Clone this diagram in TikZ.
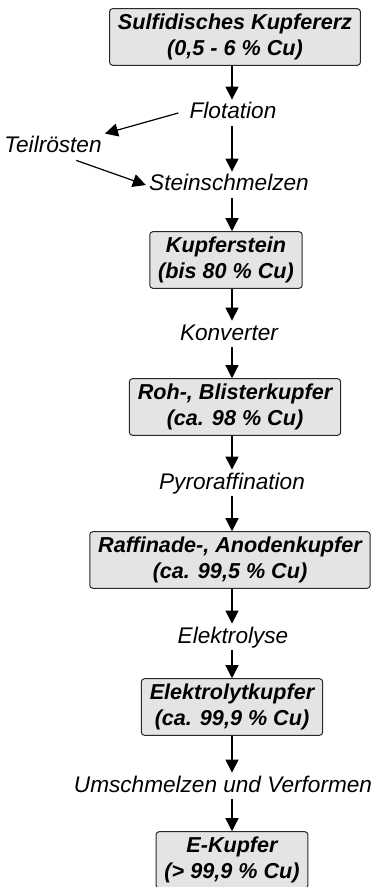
\documentclass[tikz,border=0pt]{standalone}
\usepackage{fontspec}
\setmainfont{Liberation Sans}
\usepackage{xcolor}
\definecolor{cugray}{RGB}{228,228,228}
\definecolor{cudark}{RGB}{40,40,40}
\usetikzlibrary{arrows.meta,positioning}

\begin{document}
\begin{tikzpicture}[
  x=0.5pt, y=-0.5pt,
  stage/.style={
    rectangle, rounded corners=1.5pt,
    draw=cudark, line width=0.5pt,
    fill=cugray,
    inner xsep=4.2pt, inner ysep=2.6pt,
    font=\fontsize{10.8}{13}\selectfont\bfseries\itshape,
    align=center,
    text=black
  },
  procname/.style={
    font=\fontsize{11.3}{13}\selectfont\itshape,
    inner sep=1.5pt, text height=8pt, text depth=2pt,
    text=black
  },
  conn/.style={-{Triangle[length=6.5pt,width=6.5pt]}, line width=0.6pt, draw=black}
]
\useasboundingbox (0,0) rectangle (377,887);

\node[stage]    (erz)    at (235,37)  {Sulfidisches Kupfererz\\(0,5 - 6 \% Cu)};
\node[procname] (flot)   at (233,113) {Flotation};
\node[procname] (teil)   at (53,147)  {Teilrösten};
\node[procname] (stein)  at (229,185) {Steinschmelzen};
\node[stage]    (kstein) at (226,260) {Kupferstein\\(bis 80 \% Cu)};
\node[procname] (konv)   at (229,334) {Konverter};
\node[stage]    (roh)    at (235,407) {Roh-, Blisterkupfer\\(ca. 98 \% Cu)};
\node[procname] (pyro)   at (232,483) {Pyroraffination};
\node[stage]    (raff)   at (230,560) {Raffinade-, Anodenkupfer\\(ca. 99,5 \% Cu)};
\node[procname] (elyse)  at (233,637) {Elektrolyse};
\node[stage]    (elk)    at (232,707) {Elektrolytkupfer\\(ca. 99,9 \% Cu)};
\node[procname] (umsch)  at (223,786) {Umschmelzen und Verformen};
\node[stage]    (ekup)   at (232,860) {E-Kupfer\\(> 99,9 \% Cu)};

% main line
\draw[conn] (erz.south -| 232,0) -- (flot.north -| 232,0);
\draw[conn] (flot.south -| 232,0) -- (stein.north -| 232,0);
\draw[conn] (stein.south -| 232,0) -- (kstein.north -| 232,0);
\draw[conn] (kstein.south -| 232,0) -- (konv.north -| 232,0);
\draw[conn] (konv.south -| 232,0) -- (roh.north -| 232,0);
\draw[conn] (roh.south -| 232,0) -- (pyro.north -| 232,0);
\draw[conn] (pyro.south -| 232,0) -- (raff.north -| 232,0);
\draw[conn] (raff.south -| 232,0) -- (elyse.north -| 232,0);
\draw[conn] (elyse.south -| 232,0) -- (elk.north -| 232,0);
\draw[conn] (elk.south -| 232,0) -- (umsch.north -| 232,0);
\draw[conn] (umsch.south -| 232,0) -- (ekup.north -| 232,0);

% side branch
\draw[conn] ([xshift=-4pt]flot.west) -- (teil.north east);
\draw[conn] (teil.-30) -- (stein.west);
\end{tikzpicture}
\end{document}
